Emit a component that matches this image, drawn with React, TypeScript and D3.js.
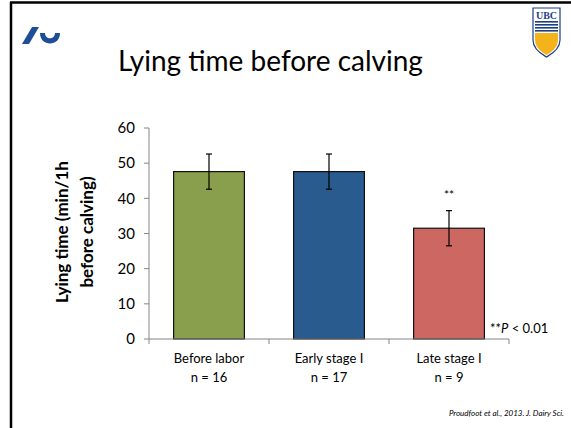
import React from "react";
import * as d3 from "d3";

const categories = ["Before labor", "Early stage I", "Late stage I"];
const sampleSizes = ["n = 16", "n = 17", "n = 9"];
const means = [47.6, 47.6, 31.5];
const errors = [5.0, 5.0, 5.0];
const barColors = ["#8A9F4D", "#2A5B8E", "#CC6761"];
const significance = ["", "", "**"];
const yTicks = [0, 10, 20, 30, 40, 50, 60];

const W = 571;
const H = 428;
const FONT = "Lato, 'Open Sans', sans-serif";

export default function App() {
  const x0 = 149, x1 = 509, yBottom = 339, yTop = 128;
  const x = d3.scaleBand<string>().domain(categories).range([x0, x1]).paddingInner(0.41).paddingOuter(0.205);
  const xb = d3.scaleBand<string>().domain(categories).range([x0, x1]);
  const y = d3.scaleLinear().domain([0, 60]).range([yBottom, yTop]);
  const axisColor = "#868686";

  return (
    <div style={{ position: "absolute", left: 0, top: 0, width: W, height: H, background: "#fff" }}>
      <svg width={W} height={H} style={{ display: "block" }} fontFamily={FONT}>
        <rect x={0} y={0} width={W} height={H} fill="#fff" />
        {/* frame */}
        <line x1={10} x2={W} y1={2.5} y2={2.5} stroke="#000" strokeWidth={2.5} />
        <line x1={11} x2={11} y1={2} y2={H} stroke="#000" strokeWidth={2.5} />

        {/* left logo */}
        <path d="M22,44 L29,44 L39,27 L32,27 Z" fill="#1F4E96" />
        <path d="M40,33 C40,47 60,47 60,33 L55,33 C55,40 45,40 45,33 Z" fill="#1F4E96" />

        {/* UBC logo */}
        <g>
          <path d="M533,8 L560,8 L560,40 C560,50 550,55 546.5,57 C543,55 533,50 533,40 Z" fill="#fff" stroke="#1B3F80" strokeWidth={1.2} />
          <text x={546.5} y={18.5} textAnchor="middle" fontSize={10} fontWeight={700} fill="#1B3F80" fontFamily="'Liberation Serif', serif">UBC</text>
          <rect x={535} y={21} width={23} height={1.6} fill="#1B3F80" />
          <rect x={535} y={24} width={23} height={1.6} fill="#1B3F80" />
          <rect x={535} y={27} width={23} height={1.6} fill="#1B3F80" />
          <rect x={535} y={30} width={23} height={1.6} fill="#1B3F80" />
          <path d="M535,33 L558,33 L558,40 C558,48 550,53 546.5,55 C543,53 535,48 535,40 Z" fill="#F2B31B" />
        </g>

        {/* title */}
        <text x={270.5} y={71} textAnchor="middle" fontSize={28} fill="#000">Lying time before calving</text>

        {/* y label */}
        <g transform="translate(0,232) rotate(-90)" fontWeight={700} fontSize={17} fill="#000">
          <text x={0} y={68} textAnchor="middle">Lying time (min/1h</text>
          <text x={0} y={93} textAnchor="middle">before calving)</text>
        </g>

        {/* y axis */}
        <line x1={x0} x2={x0} y1={yTop} y2={yBottom} stroke={axisColor} strokeWidth={1} />
        {yTicks.map((t) => (
          <g key={t}>
            <line x1={x0 - 5} x2={x0} y1={y(t)} y2={y(t)} stroke={axisColor} />
            <text x={x0 - 14} y={y(t)} dy="0.35em" textAnchor="end" fontSize={15} fill="#000">{t}</text>
          </g>
        ))}

        {/* bars */}
        {categories.map((c, i) => {
          const bx = x(c)!;
          const bw = x.bandwidth();
          const cx = bx + bw / 2;
          return (
            <g key={c}>
              <rect x={bx} y={y(means[i])} width={bw} height={y(0) - y(means[i])} fill={barColors[i]} stroke="#111" strokeWidth={1.2} />
              <line x1={cx} x2={cx} y1={y(means[i] + errors[i])} y2={y(means[i] - errors[i])} stroke="#000" strokeWidth={1.2} />
              <line x1={cx - 3} x2={cx + 3} y1={y(means[i] + errors[i])} y2={y(means[i] + errors[i])} stroke="#000" strokeWidth={1.2} />
              <line x1={cx - 3} x2={cx + 3} y1={y(means[i] - errors[i])} y2={y(means[i] - errors[i])} stroke="#000" strokeWidth={1.2} />
              {significance[i] && (
                <text x={cx} y={y(means[i] + errors[i]) - 12} textAnchor="middle" fontSize={12} fill="#000">{significance[i]}</text>
              )}
            </g>
          );
        })}

        {/* x axis */}
        <line x1={x0} x2={x1} y1={yBottom} y2={yBottom} stroke={axisColor} strokeWidth={1.2} />
        {[x0, ...categories.map((c) => xb(c)! + xb.bandwidth())].map((t, i) => (
          <line key={i} x1={t} x2={t} y1={yBottom} y2={yBottom + 5} stroke={axisColor} />
        ))}
        {categories.map((c, i) => {
          const cx = xb(c)! + xb.bandwidth() / 2;
          return (
            <g key={c} fontSize={13} fill="#000" textAnchor="middle">
              <text x={cx} y={363}>{c}</text>
              <text x={cx} y={382}>{sampleSizes[i]}</text>
            </g>
          );
        })}

        {/* p-value note */}
        <text x={490} y={333} fontSize={13} fill="#000">
          **<tspan fontStyle="italic">P</tspan> &lt; 0.01
        </text>

        {/* citation */}
        <text x={564} y={416} textAnchor="end" fontSize={8} fontStyle="italic" fill="#000">Proudfoot et al., 2013. J. Dairy Sci.</text>
      </svg>
    </div>
  );
}
